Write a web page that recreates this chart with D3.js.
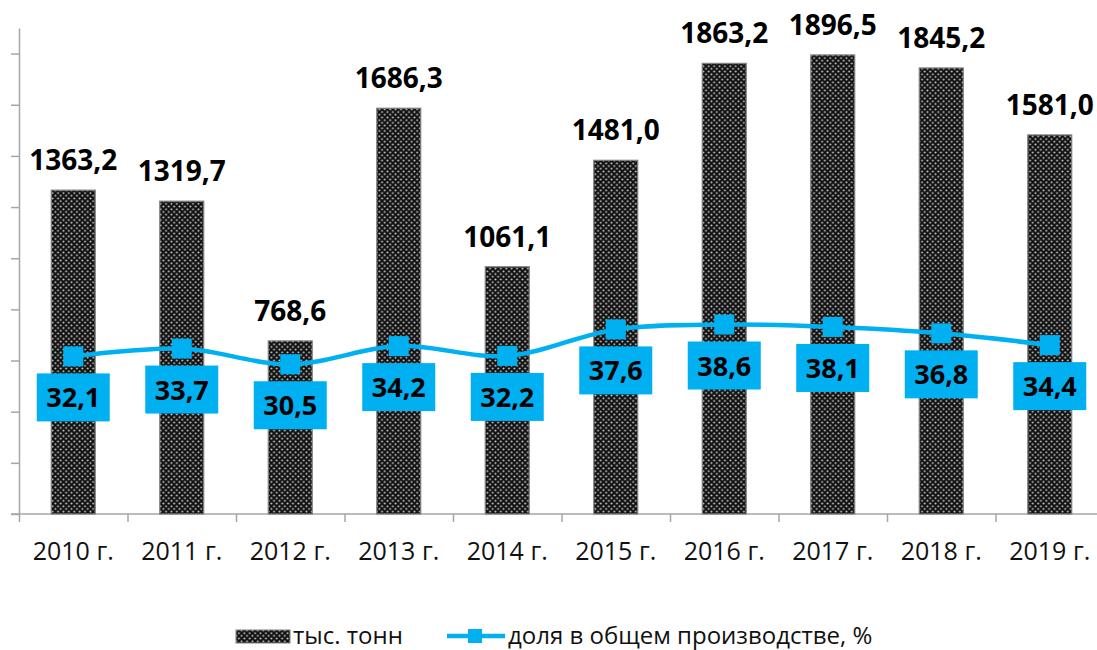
<html>
<head>
<meta charset="utf-8">
<title>Производство</title>
<style>
  body { margin: 0; background: #fff; }
  text { font-family: "Open Sans", "Noto Sans", sans-serif; }
</style>
<script src="https://d3js.org/d3.v7.min.js"></script>
</head>
<body>
<script>
var years = ["2010 г.", "2011 г.", "2012 г.", "2013 г.", "2014 г.", "2015 г.", "2016 г.", "2017 г.", "2018 г.", "2019 г."];
var tonnes = [1363.2, 1319.7, 768.6, 1686.3, 1061.1, 1481.0, 1863.2, 1896.5, 1845.2, 1581.0];
var share = [32.1, 33.7, 30.5, 34.2, 32.2, 37.6, 38.6, 38.1, 36.8, 34.4];
var seriesNames = ["тыс. тонн", "доля в общем производстве, %"];

var width = 1097, height = 650,
    plotLeft = 19, plotRight = 1104, base = 514, plotTop = 28;
var blue = "#00B0F0", axisGrey = "#a6a6a6";

var fmt = v => d3.format(".1f")(v).replace(".", ",");

var svg = d3.select("body").append("svg")
  .attr("width", width)
  .attr("height", height);

// dotted fill of the bars
var pat = svg.append("defs").append("pattern")
  .attr("id", "dots")
  .attr("patternUnits", "userSpaceOnUse")
  .attr("width", 5.4)
  .attr("height", 5.4);
pat.append("rect").attr("width", 5.4).attr("height", 5.4).attr("fill", "#111");
pat.append("circle").attr("cx", 1.35).attr("cy", 1.35).attr("r", 1.0).attr("fill", "#d0d0d0");
pat.append("circle").attr("cx", 4.05).attr("cy", 4.05).attr("r", 1.0).attr("fill", "#d0d0d0");

var x = d3.scaleBand().domain(years).range([plotLeft, plotRight]);
var yBar = d3.scaleLinear().domain([86, 2000]).range([base, plotTop + 0.7]);
var yPct = d3.scaleLinear().domain([0, 99]).range([base, plotTop]);
var tickScale = d3.scaleLinear().domain([0, 9.5]).range([base, plotTop]);
var bound = d3.scaleLinear().domain([0, years.length]).range([plotLeft, plotRight]);

var barW = x.bandwidth() * 0.405;
var cx = d => x(d) + x.bandwidth() / 2;

// axes
var yAxis = svg.append("g")
  .attr("transform", "translate(" + plotLeft + ",0)")
  .call(d3.axisLeft(tickScale).tickValues(d3.range(0, 10)).tickFormat("").tickSize(8).tickSizeOuter(0));
yAxis.selectAll("path, line").attr("stroke", axisGrey).attr("stroke-width", 1.5);

var xAxis = svg.append("g")
  .attr("transform", "translate(0," + base + ")")
  .call(d3.axisBottom(bound).tickValues(d3.range(0, years.length + 1)).tickFormat("").tickSize(8).tickSizeOuter(0));
xAxis.select(".domain").remove();
xAxis.selectAll("line").attr("stroke", axisGrey).attr("stroke-width", 1.5);
svg.append("line")
  .attr("x1", plotLeft - 8).attr("x2", plotRight)
  .attr("y1", base).attr("y2", base)
  .attr("stroke", axisGrey).attr("stroke-width", 1.5);

svg.append("g").selectAll("text")
  .data(years)
  .enter().append("text")
  .attr("x", d => cx(d))
  .attr("y", 560)
  .attr("text-anchor", "middle")
  .style("font-size", "25px")
  .attr("fill", "#111")
  .text(d => d);

// bars
svg.append("g").selectAll("rect")
  .data(tonnes)
  .enter().append("rect")
  .attr("x", (d, i) => cx(years[i]) - barW / 2)
  .attr("y", d => yBar(d))
  .attr("width", barW)
  .attr("height", d => base - yBar(d))
  .attr("fill", "url(#dots)")
  .attr("stroke", "#7f7f7f")
  .attr("stroke-width", 1.2);

svg.append("g").selectAll("text")
  .data(tonnes)
  .enter().append("text")
  .attr("x", (d, i) => cx(years[i]))
  .attr("y", d => yBar(d) - 20)
  .attr("text-anchor", "middle")
  .style("font-size", "28px")
  .style("font-weight", "bold")
  .attr("fill", "#000")
  .text(d => fmt(d));

// line
var line = d3.line()
  .x((d, i) => cx(years[i]))
  .y(d => yPct(d))
  .curve(d3.curveCatmullRom.alpha(0.5));

svg.append("path")
  .datum(share)
  .attr("d", line)
  .attr("fill", "none")
  .attr("stroke", blue)
  .attr("stroke-width", 4.5);

svg.append("g").selectAll("rect")
  .data(share)
  .enter().append("rect")
  .attr("x", (d, i) => cx(years[i]) - 10)
  .attr("y", d => yPct(d) - 10)
  .attr("width", 20)
  .attr("height", 20)
  .attr("fill", blue);

var lab = svg.append("g").selectAll("g")
  .data(share)
  .enter().append("g")
  .attr("transform", (d, i) => "translate(" + cx(years[i]) + "," + (yPct(d) + 41) + ")");
lab.append("rect")
  .attr("x", -36.5).attr("y", -24)
  .attr("width", 73).attr("height", 48)
  .attr("fill", blue);
lab.append("text")
  .attr("text-anchor", "middle")
  .attr("y", 10)
  .style("font-size", "27px")
  .style("font-weight", "bold")
  .attr("fill", "#000")
  .text(d => fmt(d));

// legend
var lg = svg.append("g");
lg.append("rect")
  .attr("x", 236).attr("y", 630)
  .attr("width", 54).attr("height", 13)
  .attr("fill", "url(#dots)")
  .attr("stroke", "#7f7f7f");
lg.append("text")
  .attr("x", 293).attr("y", 644)
  .style("font-size", "24px")
  .attr("fill", "#111")
  .text(seriesNames[0]);
lg.append("line")
  .attr("x1", 447).attr("x2", 505)
  .attr("y1", 636).attr("y2", 636)
  .attr("stroke", blue).attr("stroke-width", 4.5);
lg.append("rect")
  .attr("x", 468).attr("y", 629)
  .attr("width", 14).attr("height", 14)
  .attr("fill", blue);
lg.append("text")
  .attr("x", 508).attr("y", 644)
  .style("font-size", "24px")
  .attr("fill", "#111")
  .text(seriesNames[1]);
</script>
</body>
</html>
